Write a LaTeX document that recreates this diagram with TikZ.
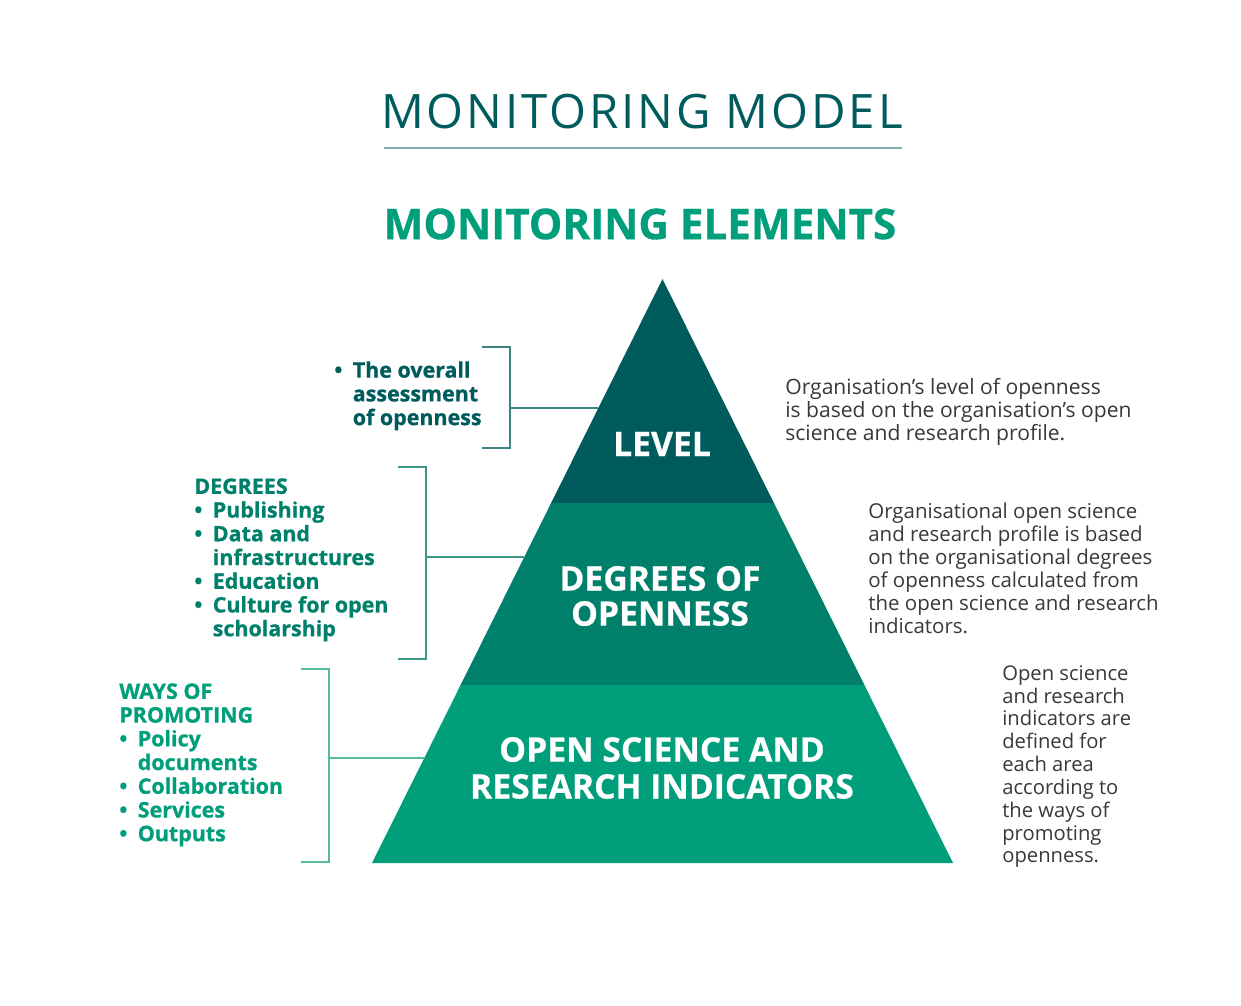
\documentclass[tikz,border=0pt]{standalone}
\usepackage{fontspec}
\setmainfont{Open Sans}
\usepackage{tikz}

\definecolor{lvlteal}{HTML}{005B5C}
\definecolor{degteal}{HTML}{007F6A}
\definecolor{indgreen}{HTML}{009E7B}
\definecolor{rulegray}{HTML}{7FB0B0}
\definecolor{brtop}{HTML}{3F8282}
\definecolor{brmid}{HTML}{3A9886}
\definecolor{brbot}{HTML}{55B99C}
\definecolor{bodygray}{HTML}{383838}

\newcommand{\bul}{\makebox[10.5pt][l]{\textbullet}}
\newcommand{\ind}{\hspace*{10.5pt}}

\begin{document}
\begin{tikzpicture}[
     x = 0.02cm, y = -0.02cm, % pixel grid of the sketch
     line join = miter,
     bracket/.style = {line width = 0.85pt} % the side brackets
 ]

 \tikzstyle{bandtext}=[
     text = white,
     align = center,
     font = \bfseries\addfontfeature{FakeBold=0.6}\fontsize{19.2}{20}\selectfont
 ]
 \tikzstyle{lefttext} = [
   anchor = north west,
   inner sep = 0pt,
   align = left,
   font = \bfseries\addfontfeature{FakeBold=0.8}\fontsize{12.2}{13.5}\selectfont]
 \tikzstyle{righttext} = [
   anchor = north west,
   inner sep = 0pt,
   align = left,
   text = bodygray]

 \useasboundingbox (0,0) rectangle (1241,1005);

 % titles
 \node[text = lvlteal, font = \fontsize{27}{30}\addfontfeature{LetterSpace=6}\selectfont] (title) at (642,112) {MONITORING MODEL};
 \draw[rulegray, line width = 0.85pt] (384,148) -- (902,148);
 \node[text = indgreen, font = \bfseries\addfontfeature{FakeBold=0.8}\fontsize{24}{28}\selectfont] (elements) at (640,224) {MONITORING ELEMENTS};

 % pyramid
 \coordinate (apex) at (662.5,279);
 \coordinate (l1) at (551.1,503);
 \coordinate (r1) at (773.9,503);
 \coordinate (l2) at (460.6,685);
 \coordinate (r2) at (864.4,685);
 \coordinate (l3) at (372,863);
 \coordinate (r3) at (953,863);

 \fill[lvlteal] (apex) -- (r1) -- (l1) -- cycle;
 \fill[degteal] (l1) -- (r1) -- (r2) -- (l2) -- cycle;
 \fill[indgreen] (l2) -- (r2) -- (r3) -- (l3) -- cycle;

 \node[bandtext] (level) at (662,444) {LEVEL};
 \node[bandtext] (degrees) at (660,596) {DEGREES OF\\[0pt] OPENNESS};
 \node[bandtext] (indicators) at (662,768) {OPEN SCIENCE AND\\[1pt] RESEARCH INDICATORS};

 % brackets
 \coordinate (b1) at (510,408);
 \coordinate (e1) at (598.3,408);
 \coordinate (b2) at (426,557);
 \coordinate (e2) at (524.2,557);
 \coordinate (b3) at (329,758);
 \coordinate (e3) at (424.2,758);

 \draw[bracket, brtop] (482,347) -- (510,347) -- (510,448) -- (482,448);
 \draw[bracket, brtop] (b1) -- (e1);
 \draw[bracket, brmid] (398,467) -- (426,467) -- (426,659) -- (398,659);
 \draw[bracket, brmid] (b2) -- (e2);
 \draw[bracket, brbot] (301,669) -- (329,669) -- (329,862) -- (301,862);
 \draw[bracket, brbot] (b3) -- (e3);

 % left lists
 \node[lefttext, text = lvlteal] (overall) at (334,361) {%
   \bul The overall\\ \ind assessment\\ \ind of openness};
 \node[lefttext, text = degteal] (degreelist) at (194,478) {%
   DEGREES\\ \bul Publishing\\ \bul Data and\\ \ind infrastructures\\
   \bul Education\\ \bul Culture for open\\ \ind scholarship};
 \node[lefttext, text = indgreen] (ways) at (119,683) {%
   WAYS OF\\ PROMOTING\\ \bul Policy\\ \ind documents\\
   \bul Collaboration\\ \bul Services\\ \bul Outputs};

 % right texts
 \node[righttext, font = \fontsize{12}{13}\selectfont] (lvlnote) at (785,378) {%
   Organisation’s level of openness\\ is based on the organisation’s open\\
   science and research profile.};
 \node[righttext, font = \fontsize{11.65}{13}\selectfont] (degnote) at (868,503) {%
   Organisational open science\\ and research profile is based\\
   on the organisational degrees\\ of openness calculated from\\
   the open science and research\\ indicators.};
 \node[righttext, font = \fontsize{11.5}{13}\selectfont] (indnote) at (1002,665) {%
   Open science\\ and research\\ indicators are\\ defined for\\ each area\\
   according to\\ the ways of\\ promoting\\ openness.};
\end{tikzpicture}
\end{document}
